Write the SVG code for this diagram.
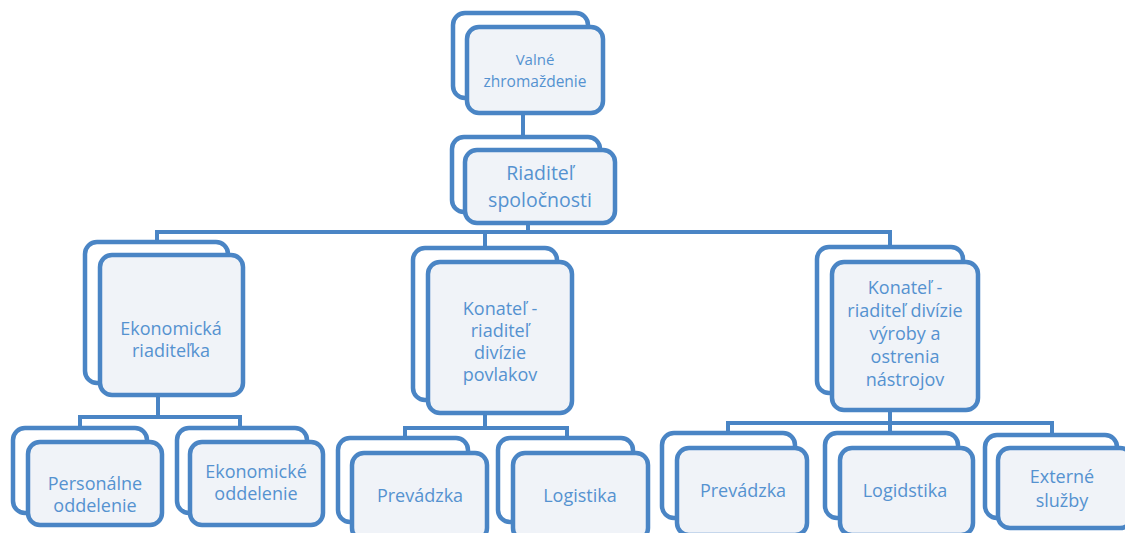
<svg xmlns="http://www.w3.org/2000/svg" width="1125" height="533" viewBox="0 0 1125 533">
<style>
.bk{fill:#ffffff;stroke:#4a85c5;stroke-width:4.5}
.fr{fill:#f0f3f8;stroke:#4a85c5;stroke-width:4.5}
.c{fill:none;stroke:#4a85c5;stroke-width:4}
text{font-family:"Open Sans","Noto Sans","Liberation Sans",sans-serif;fill:#5592d0;text-anchor:middle;font-size:18px}
</style>
<rect width="1125" height="533" fill="#ffffff"/>
<g id="connectors">
<path class="c" d="M523,113V137"/>
<path class="c" d="M528,223V232M157,242V232H890V247M485,232V248"/>
<path class="c" d="M158,395V417M80,428V417H240V428"/>
<path class="c" d="M485,413V428M405,438V428H567V438"/>
<path class="c" d="M890,410V423M728,433V423H1052V435M890,423V433"/>
</g>
<g id="n-valne">
<rect class="bk" x="453" y="13" width="135" height="85" rx="12"/>
<rect class="fr" x="467" y="27" width="136" height="86" rx="12"/>
<text x="535" y="65" style="font-size:15px">Valné</text>
<text x="535" y="87" style="font-size:15.5px">zhromaždenie</text>
</g>
<g id="n-riaditel">
<rect class="bk" x="452" y="137" width="148" height="75" rx="12"/>
<rect class="fr" x="465" y="150" width="150" height="73" rx="12"/>
<text x="540" y="180" style="font-size:19.5px">Riaditeľ</text>
<text x="540" y="207" style="font-size:19.5px">spoločnosti</text>
</g>
<g id="n-ekonomicka">
<rect class="bk" x="85" y="242" width="143" height="141" rx="12"/>
<rect class="fr" x="100" y="255" width="143" height="140" rx="12"/>
<text x="171" y="335">Ekonomická</text>
<text x="171" y="357">riaditeľka</text>
</g>
<g id="n-povlakov">
<rect class="bk" x="413" y="248" width="144" height="152" rx="12"/>
<rect class="fr" x="428" y="262" width="144" height="151" rx="12"/>
<text x="500" y="315">Konateľ -</text>
<text x="500" y="337">riaditeľ</text>
<text x="500" y="359">divízie</text>
<text x="500" y="381">povlakov</text>
</g>
<g id="n-vyroby">
<rect class="bk" x="817" y="247" width="146" height="146" rx="12"/>
<rect class="fr" x="832" y="262" width="146" height="148" rx="12"/>
<text x="905" y="294">Konateľ -</text>
<text x="905" y="317">riaditeľ divízie</text>
<text x="905" y="340">výroby a</text>
<text x="905" y="363">ostrenia</text>
<text x="905" y="386">nástrojov</text>
</g>
<g id="n-personalne">
<rect class="bk" x="13" y="428" width="134" height="85" rx="12"/>
<rect class="fr" x="28" y="442" width="134" height="83" rx="12"/>
<text x="95" y="490">Personálne</text>
<text x="95" y="512">oddelenie</text>
</g>
<g id="n-ekonomicke">
<rect class="bk" x="177" y="428" width="130" height="85" rx="12"/>
<rect class="fr" x="190" y="442" width="133" height="83" rx="12"/>
<text x="256" y="478">Ekonomické</text>
<text x="256" y="500">oddelenie</text>
</g>
<g id="n-prevadzka1">
<rect class="bk" x="338" y="438" width="130" height="84" rx="12"/>
<rect class="fr" x="352" y="453" width="135" height="87" rx="12"/>
<text x="420" y="502">Prevádzka</text>
</g>
<g id="n-logistika">
<rect class="bk" x="498" y="438" width="135" height="84" rx="12"/>
<rect class="fr" x="513" y="453" width="135" height="87" rx="12"/>
<text x="580" y="502">Logistika</text>
</g>
<g id="n-prevadzka2">
<rect class="bk" x="662" y="433" width="133" height="85" rx="12"/>
<rect class="fr" x="677" y="448" width="130" height="87" rx="12"/>
<text x="743" y="497">Prevádzka</text>
</g>
<g id="n-logidstika">
<rect class="bk" x="825" y="433" width="133" height="85" rx="12"/>
<rect class="fr" x="840" y="448" width="133" height="87" rx="12"/>
<text x="905" y="497">Logidstika</text>
</g>
<g id="n-externe">
<rect class="bk" x="985" y="435" width="132" height="83" rx="12"/>
<rect class="fr" x="998" y="448" width="134" height="80" rx="12"/>
<text x="1062" y="483">Externé</text>
<text x="1062" y="507">služby</text>
</g>
</svg>
